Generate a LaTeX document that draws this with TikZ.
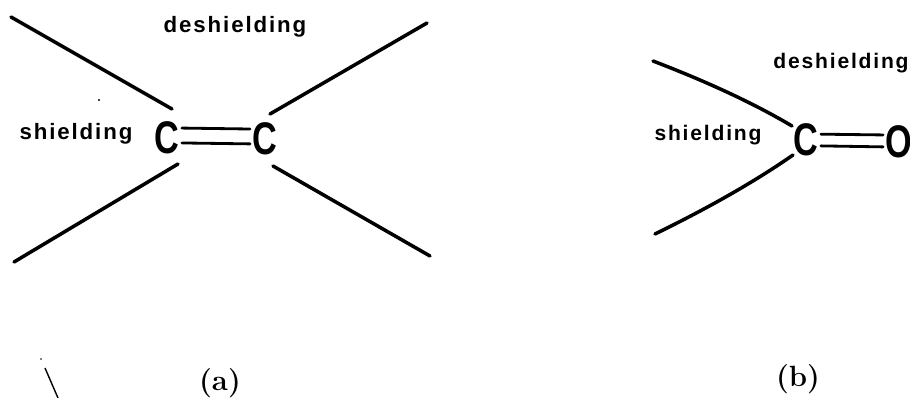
\documentclass[tikz,border=0pt]{standalone}
\usepackage{fontspec}
\usepackage{tikz}
\newfontfamily\labelfont[LetterSpace=8.5]{Liberation Sans}
\newfontfamily\atomfont{Liberation Sans}
\newcommand{\atomtext}[1]{\scalebox{0.75}[1]{#1}}
\tikzset{
	bond/.style={line width=3pt, line cap=round},
	dbond/.style={line width=2.4pt, line cap=round, shorten >=2pt, shorten <=2pt},
	atom/.style={font=\atomfont\bfseries\fontsize{39}{39}\selectfont, inner sep=0pt},
	region/.style={font=\labelfont\bfseries\fontsize{19}{22}\selectfont, inner sep=0pt},
	regionb/.style={font=\labelfont\bfseries\fontsize{18}{21}\selectfont, inner sep=0pt},
	caption/.style={font=\bfseries\fontsize{25}{28}\selectfont, inner sep=0pt}
}
\begin{document}
\begin{tikzpicture}[x=0.03cm, y=-0.03cm]
	\clip (0,0) rectangle (910,398);
	\fill[white] (0,0) rectangle (910,398);
	% (a)
	\node[atom] (c1) at (167,138) {\atomtext{C}};
	\node[atom] (c2) at (265,139) {\atomtext{C}};
	\foreach \p/\n in {(11,17)/a1, (172,109)/a2, (427,23)/a3, (270,114)/a4, (14,262)/a5, (178,164)/a6, (430,256)/a7, (273,166)/a8}
	\path \p coordinate (\n);
	\draw[bond] (a1) -- (a2);
	\draw[bond] (a3) -- (a4);
	\draw[bond] (a5) -- (a6);
	\draw[bond] (a7) -- (a8);
	\draw[dbond] ([yshift=8.5pt]c1.east) -- ([yshift=8.5pt]c2.west);
	\draw[dbond] ([yshift=-4.2pt]c1.east) -- ([yshift=-4.2pt]c2.west);
	\node[region] (sa) at (76,134) {shielding};
	\node[region] (da) at (235,27) {deshielding};
	\node[caption] (capa) at (220,383) {(a)};
	% (b)
	\node[atom] (c3) at (806,140) {\atomtext{C}};
	\node[atom] (o1) at (899,142) {\atomtext{O}};
	\coordinate (b1) at (653,61);
	\coordinate (b2) at (792,126);
	\coordinate (b3) at (655,234);
	\coordinate (b4) at (793,155);
	\draw[bond] (b1) .. controls (700,79) and (750,101) .. (b2);
	\draw[bond] (b3) .. controls (700,212) and (750,185) .. (b4);
	\draw[dbond] ([yshift=5pt]c3.east) -- ([yshift=6pt]o1.west);
	\draw[dbond] ([yshift=-5pt]c3.east) -- ([yshift=-4.2pt]o1.west);
	\node[regionb] (sb) at (708,135) {shielding};
	\node[regionb] (db) at (841,63) {deshielding};
	\node[caption] (capb) at (798,379) {(b)};
	% specks of the scan
	\coordinate (s1) at (45,368);
	\coordinate (s2) at (58,398);
	\draw[line width=1.2pt] (s1) -- (s2);
	\fill (41,359) circle (0.8);
	\fill (99,100) circle (1.2);
\end{tikzpicture}
\end{document}
